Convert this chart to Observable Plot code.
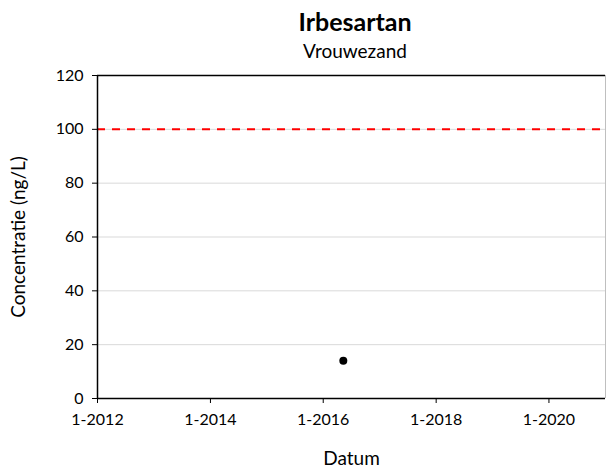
<!DOCTYPE html>
<html>
<head>
<meta charset="utf-8">
<script src="https://cdn.jsdelivr.net/npm/d3@7"></script>
<script src="https://cdn.jsdelivr.net/npm/@observablehq/plot@0.6"></script>
<style>
  html, body { margin: 0; padding: 0; background: #fff; }
  #wrap { position: relative; width: 606px; height: 471px; font-family: Lato, "Open Sans", sans-serif; }
  #title { position: absolute; left: 0; width: 710px; top: 5px; text-align: center; font-size: 25px; font-weight: bold; color: #000; line-height: 32px; }
  #subtitle { position: absolute; left: 0; width: 710px; top: 39px; text-align: center; font-size: 19px; color: #000; line-height: 24px; }
</style>
</head>
<body>
<div id="wrap">
  <div id="chart"></div>
  <div id="title">Irbesartan</div>
  <div id="subtitle">Vrouwezand</div>
</div>
<script>
const title = "Irbesartan";
const subtitle = "Vrouwezand";
const dates = ["2016-05-10"];
const values = [14];
const limitValue = [100];
const xTicks = ["2012-01-01", "2014-01-01", "2016-01-01", "2018-01-01", "2020-01-01"];
const xDomain = ["2012-01-01", "2021-01-01"];
const yTicks = [0, 20, 40, 60, 80, 100, 120];
const xLabel = "Datum";
const yLabel = "Concentratie (ng/L)";

const points = dates.map((d, i) => ({date: new Date(d), value: values[i]}));
const fmt = d => `${d.getUTCMonth() + 1}-${d.getUTCFullYear()}`;

const chart = Plot.plot({
  width: 606,
  height: 471,
  marginLeft: 97,
  marginRight: 1,
  marginTop: 75,
  marginBottom: 73,
  style: {fontFamily: "Lato, 'Open Sans', sans-serif", fontSize: "16px", color: "#000", background: "#fff"},
  x: {type: "utc", domain: xDomain.map(d => new Date(d)), label: null},
  y: {domain: [0, 120], label: null},
  marks: [
    Plot.gridY(yTicks.slice(1, -1), {stroke: "#d9d9d9", strokeOpacity: 1, strokeWidth: 1}),
    Plot.ruleY(limitValue, {stroke: "#ff0000", strokeWidth: 2, strokeDasharray: "8,7"}),
    Plot.ruleX([new Date(xDomain[1])], {stroke: "#bfbfbf", strokeWidth: 1}),
    Plot.ruleY([120], {stroke: "#000", strokeWidth: 1.3}),
    Plot.axisX({ticks: xTicks.map(d => new Date(d)), tickFormat: fmt, tickSize: 5, tickPadding: 10, label: null, fontSize: 16}),
    Plot.axisY({ticks: yTicks, tickSize: 5, tickPadding: 9, label: null, fontSize: 16}),
    Plot.ruleX([new Date(xDomain[0])], {stroke: "#000", strokeWidth: 1.5}),
    Plot.ruleY([0], {stroke: "#000", strokeWidth: 1.5}),
    Plot.dot(points, {x: "date", y: "value", r: 4, fill: "#000", stroke: "none"}),
    Plot.text([xLabel], {frameAnchor: "bottom", dy: 66, fontSize: 19, text: d => d, fill: "#000"}),
    Plot.text([yLabel], {frameAnchor: "left", dx: -79, rotate: -90, textAnchor: "middle", fontSize: 19, text: d => d, fill: "#000"})
  ]
});
document.getElementById("chart").appendChild(chart);
</script>
</body>
</html>
